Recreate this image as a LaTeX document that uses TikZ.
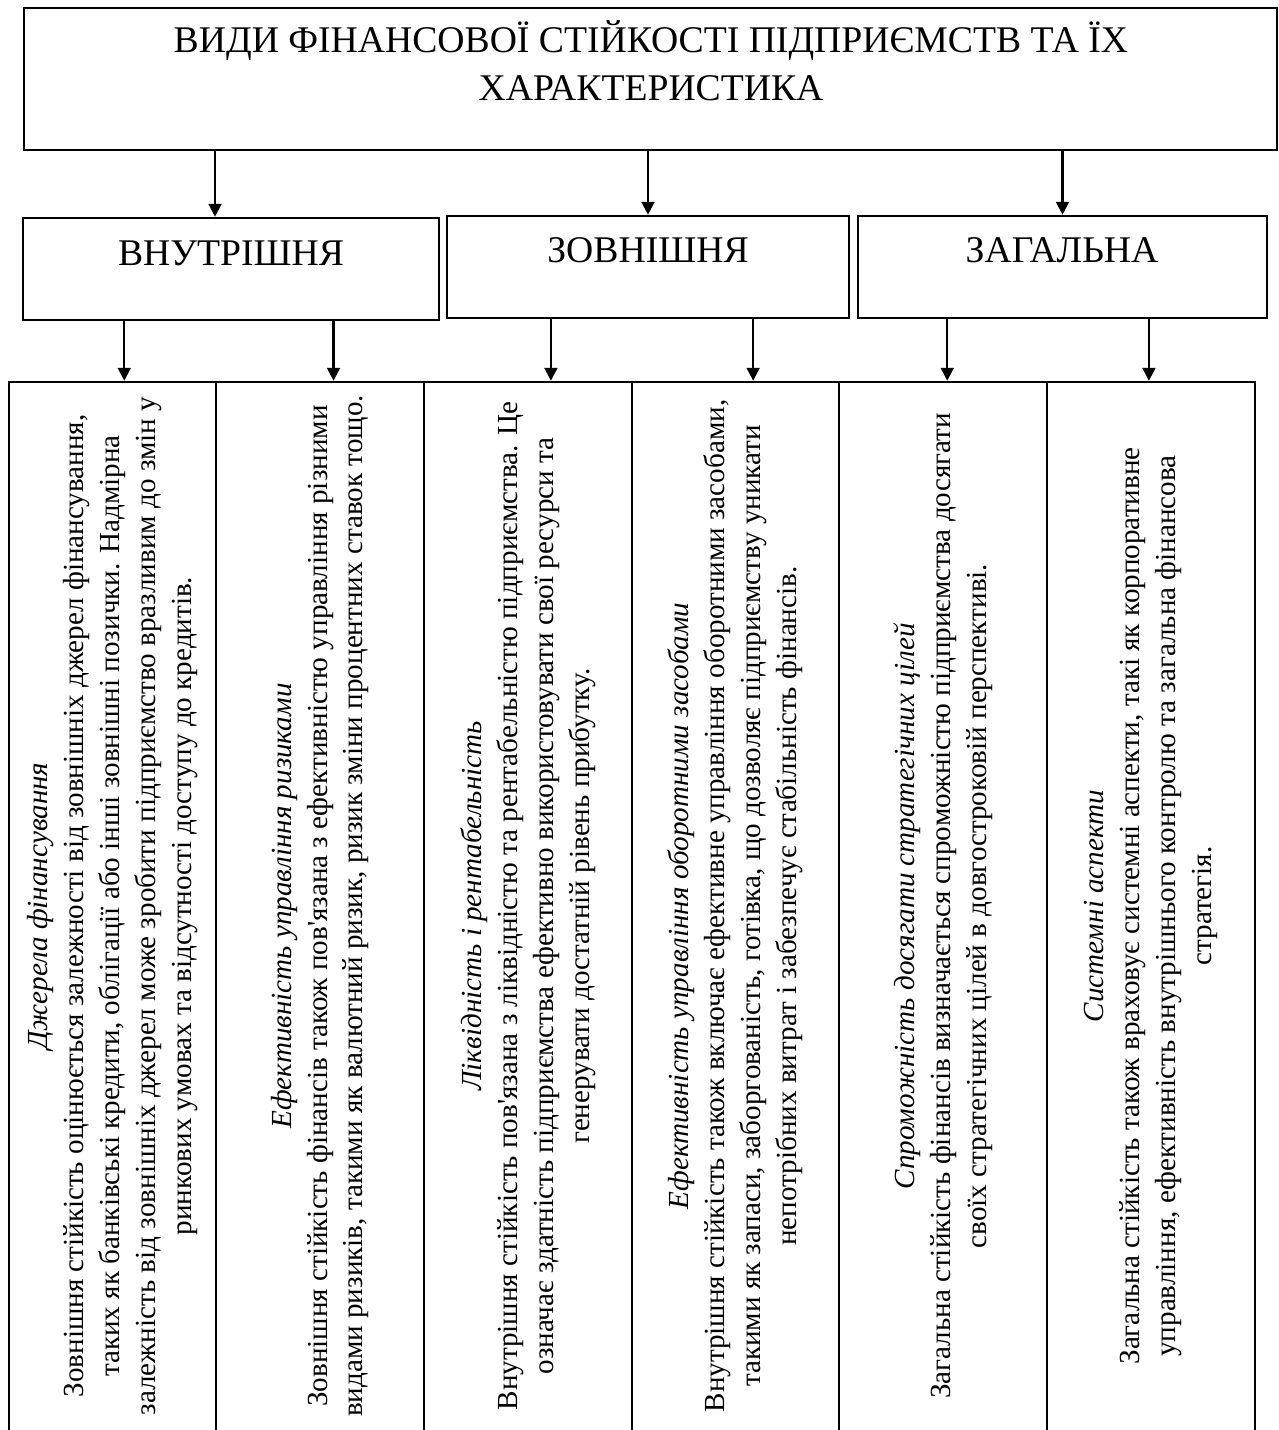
\documentclass[tikz,border=0pt]{standalone}
\usepackage{fontspec}
\setmainfont{Liberation Serif}
\usetikzlibrary{arrows.meta,positioning,fit,calc}
\newcommand{\headfont}{\fontsize{17.6}{22}\selectfont}
\newcommand{\bodyfont}{\fontsize{13.6}{16.8}\selectfont}

\begin{document}
\begin{tikzpicture}[x=0.016419cm, y=-0.016419cm,
  frame/.style={draw, line width=1.2pt, inner sep=0pt},
  head/.style={font=\headfont, align=center, anchor=base},
  desc/.style={font=\bodyfont, align=center, rotate=90, inner sep=0pt},
  arr/.style={-{Triangle[length=6pt,width=6pt]}, line width=1pt}]
\useasboundingbox (0,0) rectangle (1279,1430);
\clip (0,0) rectangle (1279,1430);

% frames
\node[frame, fit={(24,8) (1277,150)}] (title) {};
\node[frame, fit={(23,218) (439,320)}] (inner) {};
\node[frame, fit={(447,216) (849,318)}] (outer) {};
\node[frame, fit={(858,216) (1267,318)}] (total) {};
\foreach \i/\l/\r in {1/9/216, 2/216/424, 3/424/632, 4/632/839, 5/839/1047, 6/1047/1255}
  \node[frame, fit={(\l,382) (\r,1480)}] (c\i) {};

% headings (base = last line)
\node[head] (titletext) at (651,100) {ВИДИ ФІНАНСОВОЇ СТІЙКОСТІ ПІДПРИЄМСТВ ТА ЇХ\\ХАРАКТЕРИСТИКА};
\node[head] (innertext) at (231,265) {ВНУТРІШНЯ};
\node[head] (outertext) at (648,262) {ЗОВНІШНЯ};
\node[head] (totaltext) at (1062,262) {ЗАГАЛЬНА};

% descriptions
\coordinate (mid) at (0,906);
\node[desc] (d1) at (c1 |- mid) {\textit{Джерела фінансування}\\
  Зовнішня стійкість оцінюється залежності від зовнішніх джерел фінансування,\\
  таких як банківські кредити, облігації або інші зовнішні позички. Надмірна\\
  залежність від зовнішніх джерел може зробити підприємство вразливим до змін у\\
  ринкових умовах та відсутності доступу до кредитів.};
\node[desc] (d2) at (c2 |- mid) {\textit{Ефективність управління ризиками}\\
  Зовнішня стійкість фінансів також пов\textquotesingle язана з ефективністю управління різними\\
  видами ризиків, такими як валютний ризик, ризик зміни процентних ставок тощо.};
\node[desc] (d3) at (c3 |- mid) {\textit{Ліквідність і рентабельність}\\
  Внутрішня стійкість пов\textquotesingle язана з ліквідністю та рентабельністю підприємства. Це\\
  означає здатність підприємства ефективно використовувати свої ресурси та\\
  генерувати достатній рівень прибутку.};
\node[desc] (d4) at (c4 |- mid) {\textit{Ефективність управління оборотними засобами}\\
  Внутрішня стійкість також включає ефективне управління оборотними засобами,\\
  такими як запаси, заборгованість, готівка, що дозволяє підприємству уникати\\
  непотрібних витрат і забезпечує стабільність фінансів.};
\node[desc] (d5) at (c5 |- mid) {\textit{Спроможність досягати стратегічних цілей}\\
  Загальна стійкість фінансів визначається спроможністю підприємства досягати\\
  своїх стратегічних цілей в довгостроковій перспективі.};
\node[desc] (d6) at (c6 |- mid) {\textit{Системні аспекти}\\
  Загальна стійкість також враховує системні аспекти, такі як корпоративне\\
  управління, ефективність внутрішнього контролю та загальна фінансова\\
  стратегія.};

% arrows
\draw[arr] ($(title.south -| inner.north)+(-16,0)$) -- ($(inner.north)+(-16,0)$);
\draw[arr] (title.south -| outer.north) -- (outer.north);
\draw[arr] (title.south -| total.north) -- (total.north);
\foreach \b/\c/\p in {inner/c1/.245, inner/c2/.745, outer/c3/.26, outer/c4/.76, total/c5/.22, total/c6/.71}
  \draw[arr] ($(\b.south west)!\p!(\b.south east)$) coordinate (a) -- (a |- \c.north);
\end{tikzpicture}
\end{document}
